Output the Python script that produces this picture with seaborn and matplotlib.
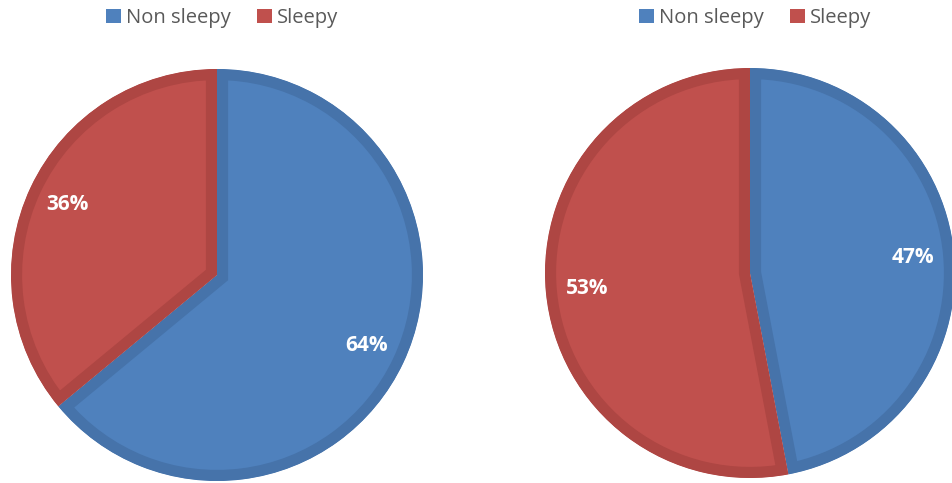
import matplotlib
matplotlib.use("Agg")
import matplotlib.pyplot as plt
import seaborn as sns
from matplotlib.patches import Patch, Wedge

sns.set_theme(style="white")
plt.rcParams["font.family"] = ["Open Sans", "DejaVu Sans"]

categories = ["Non sleepy", "Sleepy"]
left_values = [64, 36]
right_values = [47, 53]
fill_colors = ["#4F81BD", "#C0504D"]
edge_colors = ["#4673AA", "#AE4643"]

W, H = 952, 483
fig = plt.figure(figsize=(W / 100, H / 100), dpi=100)
fig.patch.set_facecolor("white")


def draw_pie(cx, cy, r, values):
    ax = fig.add_axes([(cx - r) / W, (H - cy - r) / H, 2 * r / W, 2 * r / H])
    wedges, texts, autotexts = ax.pie(
        values,
        colors=fill_colors,
        startangle=90,
        counterclock=False,
        radius=1.0,
        autopct=lambda p: f"{p:.0f}%",
        pctdistance=0.8,
        textprops=dict(color="white", fontsize=15, fontweight="bold"),
        wedgeprops=dict(linewidth=16, joinstyle="miter"),
    )
    ax.set_xlim(-1, 1)
    ax.set_ylim(-1, 1)
    ax.set_aspect("auto")
    ax.axis("off")
    # keep each border inside its own slice
    for w, ec in zip(wedges, edge_colors):
        w.set_edgecolor(ec)
        clip = Wedge(w.center, w.r, w.theta1, w.theta2, transform=ax.transData)
        w.set_clip_on(True)
        w.set_clip_path(clip)
    return ax


draw_pie(217, 275, 206, left_values)
draw_pie(750, 273, 205, right_values)

handles = [Patch(facecolor=c, edgecolor="none") for c in fill_colors]
for xc in (222 / W, 755 / W):
    fig.legend(
        handles, categories,
        loc="center", bbox_to_anchor=(xc, 1 - 18 / H),
        ncol=2, frameon=False, fontsize=14.5,
        handlelength=0.75, handleheight=0.75, handletextpad=0.25,
        columnspacing=1.3, labelcolor="#595959",
    )

fig.savefig("out.png", dpi=100, facecolor="white")
